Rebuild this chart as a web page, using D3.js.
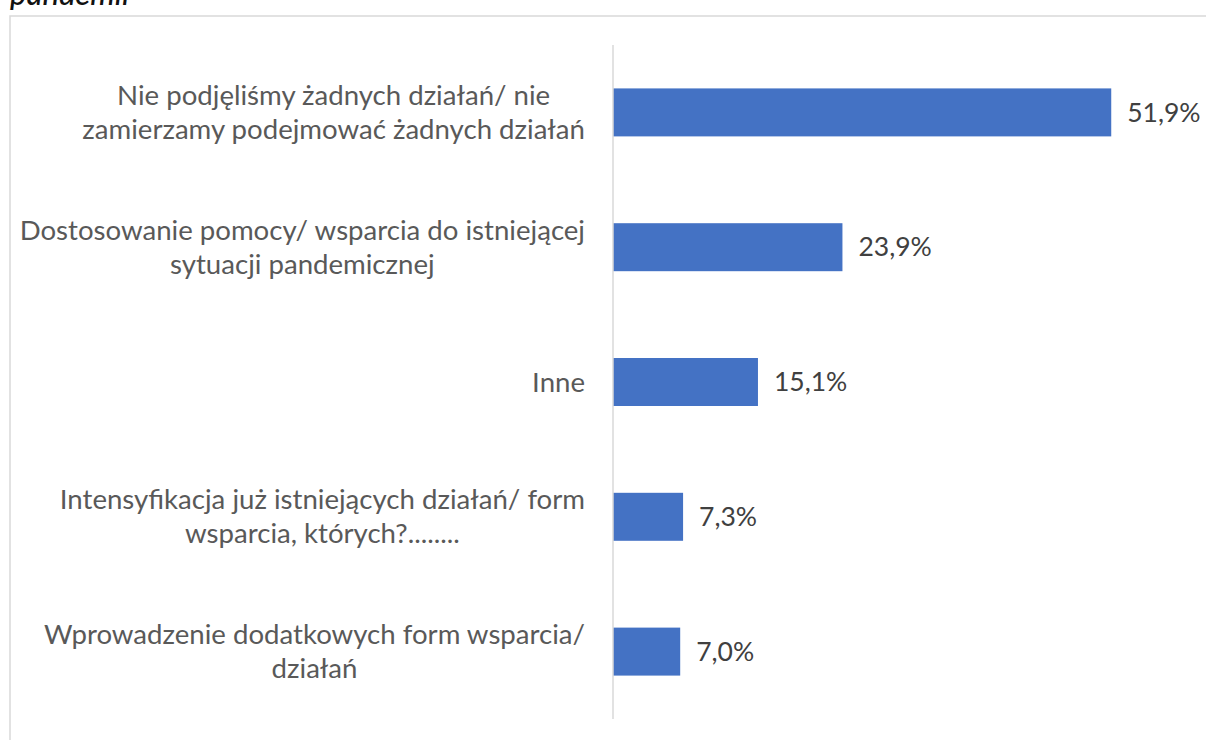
<!DOCTYPE html>
<html>
<head>
<meta charset="utf-8">
<script src="https://cdn.jsdelivr.net/npm/d3@7"></script>
<style>
  html, body { margin: 0; padding: 0; background: #fff; }
  svg { display: block; }
</style>
</head>
<body>
<div id="chart"></div>
<script>
// Chart data
var categories = [
  ['Nie podjęliśmy żadnych działań/ nie', 'zamierzamy podejmować żadnych działań'],
  ['Dostosowanie pomocy/ wsparcia do istniejącej', 'sytuacji pandemicznej'],
  ['Inne'],
  ['Intensyfikacja już istniejących działań/ form', 'wsparcia, których?........'],
  ['Wprowadzenie dodatkowych form wsparcia/', 'działań']
];
var values = [51.9, 23.9, 15.1, 7.3, 7.0];
var titleTail = 'pandemii';

(function() {
  var W = 1206, H = 740;
  var FONT = 'Lato, Carlito, "Open Sans", sans-serif';

  var svg = d3.select('#chart').append('svg')
    .attr('width', W)
    .attr('height', H);

  // Chart frame (runs off the bottom/right of the crop)
  svg.append('rect')
    .attr('x', 10).attr('y', 16)
    .attr('width', W + 20).attr('height', H + 40)
    .attr('fill', 'none')
    .attr('stroke', '#d9d9d9')
    .attr('stroke-width', 1.5);

  // Cut-off caption line above the chart
  svg.append('text')
    .attr('x', 10).attr('y', 5)
    .attr('font-family', FONT)
    .attr('font-style', 'italic')
    .attr('font-weight', 500)
    .attr('font-size', 31)
    .attr('fill', '#111')
    .text(titleTail);

  var ids = categories.map(function(d, i) { return i; });

  var x = d3.scaleLinear().domain([0, 60]).range([613, 1189]);
  var y = d3.scaleBand().domain(ids).range([45, 719])
    .paddingInner(0.644).paddingOuter(0.322);

  // Bars
  svg.append('g')
    .selectAll('rect')
    .data(values)
    .join('rect')
    .attr('x', x(0))
    .attr('y', function(d, i) { return y(i); })
    .attr('width', function(d) { return x(d) - x(0); })
    .attr('height', y.bandwidth())
    .attr('fill', '#4472c4');

  // Vertical category axis line
  svg.append('line')
    .attr('x1', x(0)).attr('x2', x(0))
    .attr('y1', 45).attr('y2', 719)
    .attr('stroke', '#d9d9d9')
    .attr('stroke-width', 1.5);

  // Value labels
  svg.append('g')
    .selectAll('text')
    .data(values)
    .join('text')
    .attr('x', function(d) { return x(d) + 16; })
    .attr('y', function(d, i) { return y(i) + y.bandwidth() / 2; })
    .attr('dy', '0.35em')
    .attr('font-family', FONT)
    .attr('font-size', 26.5)
    .attr('fill', '#404040')
    .text(function(d) { return d.toFixed(1).replace('.', ',') + '%'; });

  // Category labels: lines centred on each other, block right-aligned to the axis
  var lineH = 34;
  var labels = svg.append('g')
    .selectAll('text')
    .data(categories)
    .join('text')
    .attr('font-family', FONT)
    .attr('font-size', 27.6)
    .attr('fill', '#595959')
    .attr('text-anchor', 'middle');

  labels.each(function(lines, i) {
    var t = d3.select(this);
    var cy = y(i) + y.bandwidth() / 2;
    var top = cy - (lines.length - 1) * lineH / 2;
    lines.forEach(function(s, k) {
      t.append('tspan').attr('y', top + k * lineH).attr('dy', '0.35em').text(s);
    });
    var maxW = 0;
    t.selectAll('tspan').each(function() {
      maxW = Math.max(maxW, this.getComputedTextLength());
    });
    t.selectAll('tspan').attr('x', 585 - maxW / 2);
  });
})();
</script>
</body>
</html>
